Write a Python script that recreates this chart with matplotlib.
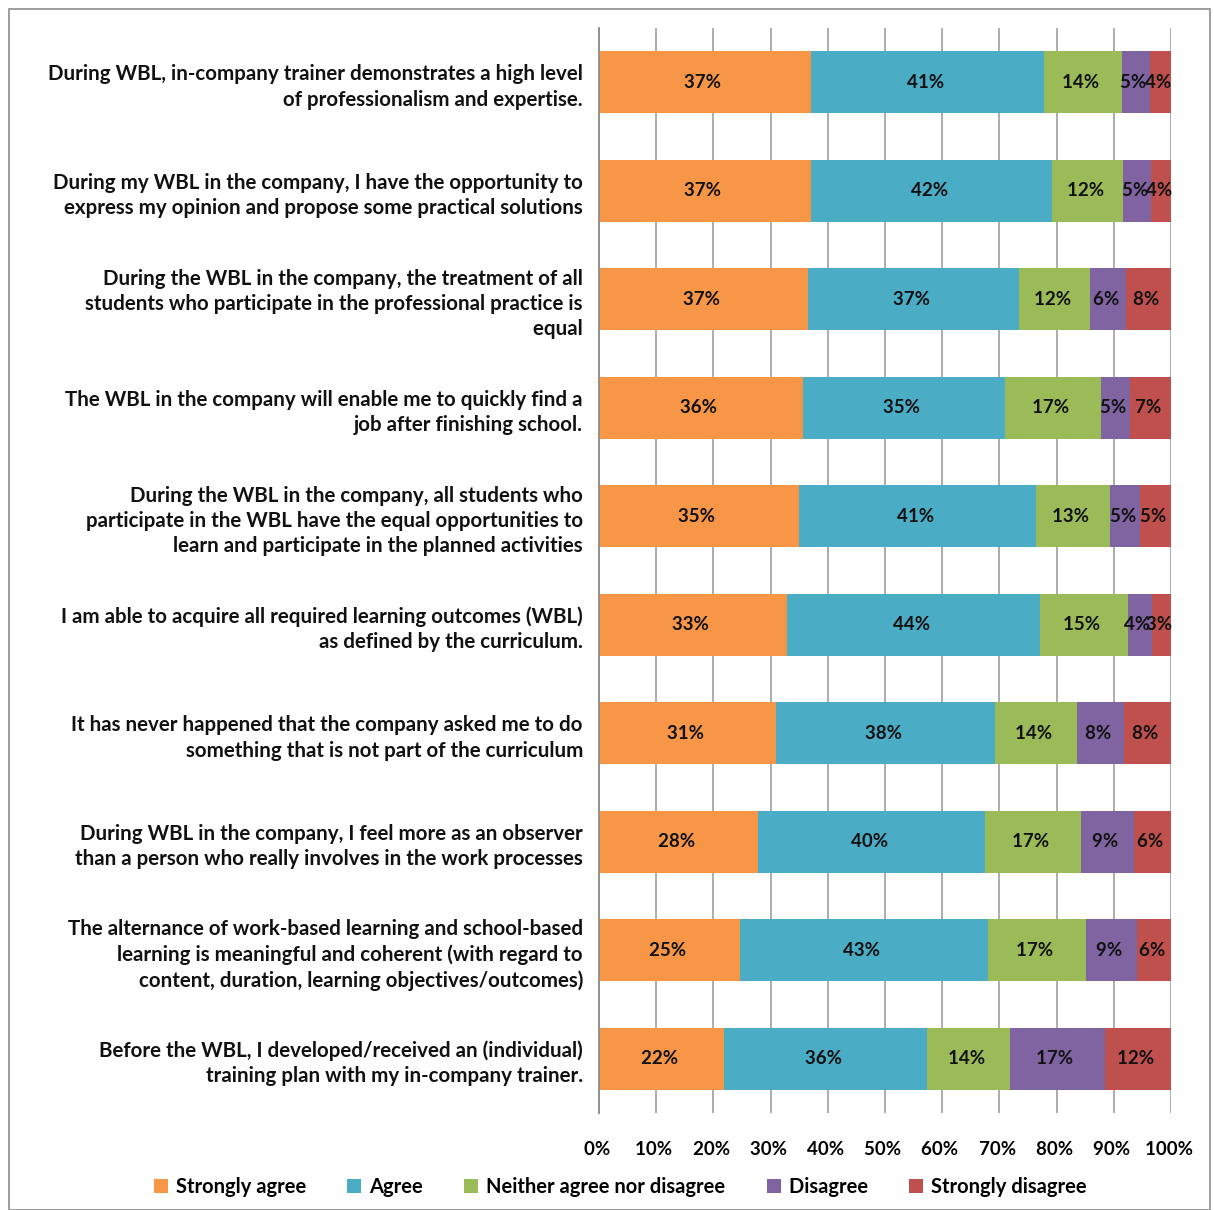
import numpy as np
import matplotlib.pyplot as plt
from matplotlib.patches import Rectangle

plt.rcParams['font.family'] = ['Lato', 'DejaVu Sans']
plt.rcParams['font.weight'] = 'bold'

# survey statements, top to bottom
questions = [
    "During WBL, in-company trainer demonstrates a high level \nof professionalism and expertise. ",
    "During my WBL in the company, I have the opportunity to \nexpress my opinion and propose some practical solutions ",
    "During the WBL in the company, the treatment of all \nstudents who participate in the professional practice is \nequal ",
    "The WBL in the company will enable me to quickly find a \njob after finishing school. ",
    "During the WBL in the company, all students who \nparticipate in the WBL have the equal opportunities to \nlearn and participate in the planned activities ",
    "I am able to acquire all required learning outcomes (WBL) \nas defined by the curriculum. ",
    "It has never happened that the company asked me to do \nsomething that is not part of the curriculum ",
    "During WBL in the company, I feel more as an observer \nthan a person who really involves in the work processes ",
    "The alternance of work-based learning and school-based \nlearning is meaningful and coherent (with regard to \ncontent, duration, learning objectives/outcomes) ",
    "Before the WBL, I developed/received an (individual) \ntraining plan with my in-company trainer. ",
]

strongly_agree = [37.0, 37.0, 36.6, 35.6, 35.0, 32.9, 30.9, 27.8, 24.7, 21.8]
agree = [40.8, 42.2, 36.9, 35.3, 41.4, 44.2, 38.3, 39.7, 43.3, 35.6]
neither = [13.6, 12.4, 12.4, 16.9, 12.9, 15.4, 14.4, 16.7, 17.1, 14.4]
disagree = [4.9, 4.9, 6.3, 5.1, 5.3, 4.1, 8.2, 9.4, 9.0, 16.6]
strongly_disagree = [3.7, 3.5, 7.8, 7.1, 5.4, 3.4, 8.2, 6.4, 5.9, 11.6]

series = [strongly_agree, agree, neither, disagree, strongly_disagree]
names = ["Strongly agree ", "Agree ", "Neither agree nor disagree ",
         "Disagree ", "Strongly disagree "]
colors = ['#F79646', '#4BACC6', '#9BBB59', '#8064A2', '#C0504D']

fig = plt.figure(figsize=(12.14, 12.10), dpi=100)
W, H = 1214, 1210
ax = fig.add_axes([599 / W, 1 - 1113 / H, 572 / W, (1113 - 28) / H])

y = np.arange(len(questions))
left = np.zeros(len(questions))
for vals, name, col in zip(series, names, colors):
    vals = np.array(vals)
    ax.barh(y, vals, left=left, height=0.57, color=col, label=name, zorder=2)
    for yi, l, v in zip(y, left, vals):
        ax.text(l + v / 2, yi, '%.0f%% ' % v, ha='center', va='center',
                fontsize=13.5, color='#111111', zorder=3)
    left += vals

ax.set_xlim(0, 100)
ax.set_ylim(len(questions) - 0.5, -0.5)
ax.set_xticks(np.arange(0, 101, 10))
ax.set_xticklabels(['%d%% ' % t for t in range(0, 101, 10)], fontsize=13.5)
ax.xaxis.grid(True, color='#A6A6A6', linewidth=1.3, zorder=0)
ax.set_axisbelow(True)
ax.tick_params(axis='x', length=0, pad=20)
ax.set_yticks(y)
ax.set_yticklabels(questions, fontsize=14.8, color='#111111', linespacing=1.33)
ax.tick_params(axis='y', length=0, pad=8)
for s in ['top', 'right', 'bottom']:
    ax.spines[s].set_visible(False)
ax.spines['left'].set_color('#8C8C8C')
ax.spines['left'].set_linewidth(1.3)

fig.legend(loc='center', bbox_to_anchor=(0.513, 1 - 1187 / H), ncol=5,
           frameon=False, fontsize=14.5, handlelength=0.7, handleheight=0.7,
           handletextpad=0.4, columnspacing=1.8)

fig.patches.append(Rectangle((9 / W, 0), 1201 / W, 1 - 9 / H, transform=fig.transFigure,
                             fill=False, edgecolor='#8C8C8C', linewidth=1.2))

fig.savefig('out.png', dpi=100)
